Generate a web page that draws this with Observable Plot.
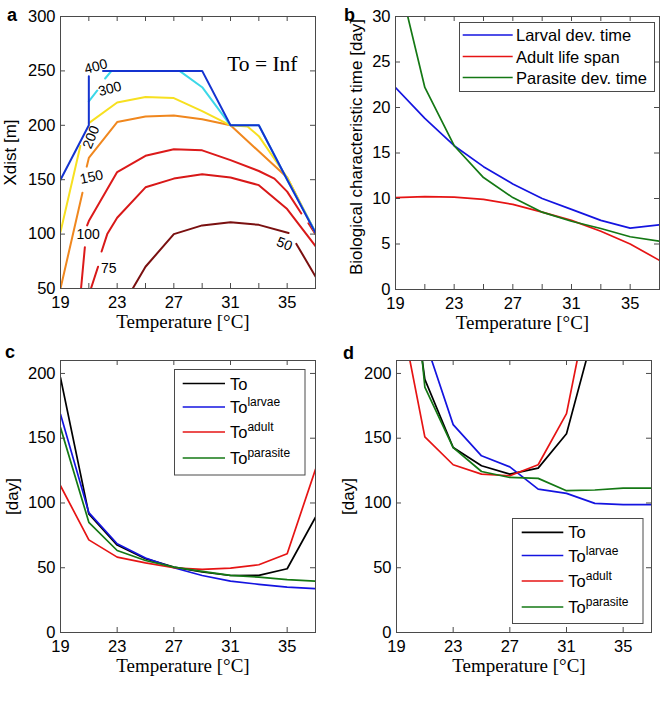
<!DOCTYPE html>
<html><head><meta charset="utf-8">
<script src="https://cdn.jsdelivr.net/npm/d3@7"></script>
<script src="https://cdn.jsdelivr.net/npm/@observablehq/plot@0.6"></script>
<style>
body{margin:0;background:#fff;}
#fig{position:relative;width:662px;height:715px;overflow:hidden;background:#fff;}
.panel{position:absolute;}
#overlay{position:absolute;left:0;top:0;pointer-events:none;}
</style></head><body><div id="fig"></div>
<script>
// ---------- shared axis values ----------
const temperature = [19,21,23,25,27,29,31,33,35,37];
const xTickLabels = [19,23,27,31,35];
const xMinorTicks = [19,21,23,25,27,29,31,33,35];
const xLabel = "Temperature [°C]";

// ---------- panel a : contours of Xdist ----------
const aYTicks = [50,100,150,200,250,300];
const c400x = [19,21,21,null,22,29,31,33,35,37];
const c400y = [150,200,245,null,250,250,200,200,150,101];
const c300x = [21,21.6,null,22.15,22.6,27.4,29,31,33,35,37];
const c300y = [222,232,null,243,250,250,235,200,200,150,102];
const c200x = [19,20.4,null,21,23,25,27,29,31,32.2,33,35,37];
const c200y = [102,181,null,202,221,226,225,213,200,199,190,152,101];
const c150x = [19,20.55,null,20.85,21,23,25,27,29,31,35,37];
const c150y = [50,138,null,162,170,203,208,209,205.5,200,152,101];
const c100x = [20.45,20.72,null,20.88,21,23,25,27,29,31,33,34.1,35,36,null,36.5,37];
const c100y = [50,88,null,108,112,157,172,178,177,168,158,151,139,119,null,110,100];
const c75x = [21.15,21.65,null,21.9,22.3,23,25,27,29,31,33,35,37];
const c75y = [50,70,null,84,100,115,143,151,155,152,145,123,89];
const c50x = [24.1,25,27,29,31,33,35.1,null,35.65,37];
const c50y = [50,70,100,108,111,108.5,101,null,91,61];
const contourLabels = ["400","300","200","150","100","75","50"];
const contourLabelX = [21.5,22.48,21.16,21.19,20.95,22.4,34.8];
const contourLabelY = [254,233.4,189,152.4,100,68,90.9];
const contourLabelAngle = [-15,-15,-68,-12,0,0,22];

// ---------- panel b ----------
const bYTicks = [0,5,10,15,20,25,30];
const larvalDev   = [22.2,18.8,15.8,13.5,11.6,10.0,8.8,7.6,6.75,7.1];
const adultLife   = [10.1,10.2,10.15,9.9,9.35,8.5,7.6,6.4,5.0,3.2];
const parasiteDev = [35.6,22.2,15.8,12.3,10.1,8.5,7.5,6.7,5.8,5.3];

// ---------- panel c ----------
const cdYTicks = [0,50,100,150,200];
const cTo       = [196.7,91.5,67.5,57,50.5,46.7,44,44.1,49.2,89];
const cLarvae   = [168.5,92.5,68.5,57.5,50,44,39.7,37.2,35.1,33.8];
const cAdult    = [113.3,71.5,58.2,53.8,50,48.7,49.7,52.3,60.8,126];
const cParasite = [158.2,85.1,63.3,55.6,50.5,47.2,44.1,42.8,40.8,39.7];

// ---------- panel d ----------
const dTo       = [357,195.4,142.8,128.7,122.3,126.9,153.5,235,null,null];
const dLarvae   = [null,226,160.5,136.4,127.9,110.7,107.4,99.7,98.7,98.7];
const dAdult    = [263,151,129.5,122.3,121,129.5,169,278,null,null];
const dParasite = [417,189.5,142.8,124.3,119.7,119,109.5,110,111.5,111.5];

const SANS = "'Liberation Sans', Arial, sans-serif";
const SERIF = "'Liberation Serif', 'Times New Roman', serif";
const AXIS = "#4a4a4a";
const BLUE = "#1414e0", RED = "#e61414", GREEN = "#147814", BLACK = "#000";

const pts = (xs, ys) => xs.map((x, i) => ({x, y: ys[i]}));

function makePanel({left, top, width, height, ml, mr, mt, mb, ydomain, yticks, minor, ylabel, ylabelDx, ylabelDy = 0, marks}) {
  const pw = width - ml - mr, ph = height - mt - mb;
  const svg = Plot.plot({
    width, height, marginLeft: ml, marginRight: mr, marginTop: mt, marginBottom: mb,
    x: {domain: [19, 37]},
    y: {domain: ydomain},
    style: {fontFamily: SANS, fontSize: "16.5px", color: "#000", background: "transparent", overflow: "visible"},
    marks: [
      ...marks,
      Plot.frame({stroke: AXIS, strokeWidth: 1}),
      Plot.tickX(minor, {x: d => d, insetTop: ph - 5, stroke: AXIS}),
      Plot.tickX(minor, {x: d => d, insetBottom: ph - 5, stroke: AXIS}),
      Plot.tickY(yticks, {y: d => d, insetRight: pw - 5, stroke: AXIS}),
      Plot.tickY(yticks, {y: d => d, insetLeft: pw - 5, stroke: AXIS}),
      Plot.axisX({ticks: xTickLabels, tickSize: 0, tickPadding: 8, label: null, fontSize: 16.5}),
      Plot.axisY({ticks: yticks, tickSize: 0, tickPadding: 5, label: null, fontSize: 16.5}),
      Plot.text([xLabel], {text: d => d, frameAnchor: "bottom", dy: 33, dx: -5, lineAnchor: "middle", fontFamily: SERIF, fontSize: 19}),
      Plot.text([ylabel], {text: d => d, frameAnchor: "left", dx: ylabelDx, dy: ylabelDy, rotate: -90, textAnchor: "middle", lineAnchor: "middle", fontSize: 17})
    ]
  });
  svg.classList.add("panel");
  svg.style.left = left + "px";
  svg.style.top = top + "px";
  svg.style.position = "absolute";
  document.getElementById("fig").appendChild(svg);
}

// panel a
const contours = [
  [c50x, c50y, "#7a1010"],
  [c75x, c75y, "#d81818"],
  [c100x, c100y, "#dc1a1a"],
  [c150x, c150y, "#f0871e"],
  [c200x, c200y, "#f7e020"],
  [c300x, c300y, "#3cd8e8"],
  [c400x, c400y, "#1433d0"]
];
const labelRows = contourLabels.map((t, i) => ({t, x: contourLabelX[i], y: contourLabelY[i], r: contourLabelAngle[i]}));
makePanel({
  left: 0, top: 0, width: 331, height: 330, ml: 60, mr: 16, mt: 16, mb: 42,
  ydomain: [50, 300], yticks: aYTicks, minor: xMinorTicks, ylabel: "Xdist [m]", ylabelDx: -50,
  marks: [
    ...contours.map(([xs, ys, c]) => Plot.line(pts(xs, ys), {x: "x", y: "y", stroke: c, strokeWidth: 2, clip: true})),
    Plot.text(labelRows, {x: "x", y: "y", text: "t", rotate: "r", fontSize: 14, fill: "#000"}),
    Plot.text(["To = Inf"], {text: d => d, frameAnchor: "top-right", dx: -18, dy: 47.5, textAnchor: "end", lineAnchor: "middle", fontFamily: SERIF, fontSize: 21.5})
  ]
});

// panel b
makePanel({
  left: 331, top: 0, width: 331, height: 330, ml: 64, mr: 3, mt: 16, mb: 41,
  ydomain: [0, 30], yticks: bYTicks, minor: xMinorTicks, ylabel: "Biological characteristic time [day]", ylabelDx: -39, ylabelDy: -6,
  marks: [
    Plot.line(pts(temperature, larvalDev), {x: "x", y: "y", stroke: BLUE, strokeWidth: 1.7, clip: true}),
    Plot.line(pts(temperature, adultLife), {x: "x", y: "y", stroke: RED, strokeWidth: 1.7, clip: true}),
    Plot.line(pts(temperature, parasiteDev), {x: "x", y: "y", stroke: GREEN, strokeWidth: 1.7, clip: true})
  ]
});

// panel c
makePanel({
  left: 0, top: 330, width: 331, height: 385, ml: 60, mr: 16, mt: 30, mb: 83,
  ydomain: [0, 210], yticks: cdYTicks, minor: xTickLabels, ylabel: "[day]", ylabelDx: -48,
  marks: [
    Plot.line(pts(temperature, cTo), {x: "x", y: "y", stroke: BLACK, strokeWidth: 1.7, clip: true}),
    Plot.line(pts(temperature, cLarvae), {x: "x", y: "y", stroke: BLUE, strokeWidth: 1.7, clip: true}),
    Plot.line(pts(temperature, cAdult), {x: "x", y: "y", stroke: RED, strokeWidth: 1.7, clip: true}),
    Plot.line(pts(temperature, cParasite), {x: "x", y: "y", stroke: GREEN, strokeWidth: 1.7, clip: true})
  ]
});

// panel d
makePanel({
  left: 331, top: 330, width: 331, height: 385, ml: 65, mr: 11, mt: 30, mb: 83,
  ydomain: [0, 210], yticks: cdYTicks, minor: xTickLabels, ylabel: "[day]", ylabelDx: -48,
  marks: [
    Plot.line(pts(temperature, dTo), {x: "x", y: "y", stroke: BLACK, strokeWidth: 1.7, clip: true}),
    Plot.line(pts(temperature, dLarvae), {x: "x", y: "y", stroke: BLUE, strokeWidth: 1.7, clip: true}),
    Plot.line(pts(temperature, dAdult), {x: "x", y: "y", stroke: RED, strokeWidth: 1.7, clip: true}),
    Plot.line(pts(temperature, dParasite), {x: "x", y: "y", stroke: GREEN, strokeWidth: 1.7, clip: true})
  ]
});

// ---------- overlay: panel letters and legends ----------
const NS = "http://www.w3.org/2000/svg";
const ov = document.createElementNS(NS, "svg");
ov.setAttribute("id", "overlay");
ov.setAttribute("width", 662); ov.setAttribute("height", 715);
ov.style.fontFamily = SANS;
function el(tag, attrs, parent = ov) {
  const e = document.createElementNS(NS, tag);
  for (const k in attrs) e.setAttribute(k, attrs[k]);
  parent.appendChild(e);
  return e;
}
const letters = [["a", 7, 21], ["b", 344, 21], ["c", 5, 358], ["d", 343, 359]];
for (const [t, x, y] of letters) {
  const tx = el("text", {x, y, "font-size": 18, "font-weight": "bold", fill: "#000"});
  tx.textContent = t;
}
function legend(box, lineX1, lineX2, textX, rows) {
  el("rect", {x: box[0], y: box[1], width: box[2], height: box[3], fill: "#fff", stroke: AXIS, "stroke-width": 1});
  for (const r of rows) {
    el("line", {x1: lineX1, x2: lineX2, y1: r.y, y2: r.y, stroke: r.color, "stroke-width": 1.7});
    const tx = el("text", {x: textX, y: r.y + 6, "font-size": 16.5, fill: "#000"});
    const t1 = el("tspan", {}, tx); t1.textContent = r.main;
    if (r.sup) { const t2 = el("tspan", {"font-size": 12, dy: -7}, tx); t2.textContent = r.sup; }
  }
}
legend([459.5, 22.5, 195, 69], 462.7, 512.7, 516, [
  {y: 35, color: BLUE, main: "Larval dev. time"},
  {y: 56.5, color: RED, main: "Adult life span"},
  {y: 77.5, color: GREEN, main: "Parasite dev. time"}
]);
legend([174.5, 369.5, 130.5, 105.5], 182.7, 225, 230, [
  {y: 383.5, color: BLACK, main: "To"},
  {y: 407, color: BLUE, main: "To", sup: "larvae"},
  {y: 432, color: RED, main: "To", sup: "adult"},
  {y: 458, color: GREEN, main: "To", sup: "parasite"}
]);
legend([512.5, 518.5, 130.5, 105], 521.7, 563.3, 568.3, [
  {y: 532.3, color: BLACK, main: "To"},
  {y: 555.5, color: BLUE, main: "To", sup: "larvae"},
  {y: 581, color: RED, main: "To", sup: "adult"},
  {y: 607, color: GREEN, main: "To", sup: "parasite"}
]);
document.getElementById("fig").appendChild(ov);
</script>
</body></html>
